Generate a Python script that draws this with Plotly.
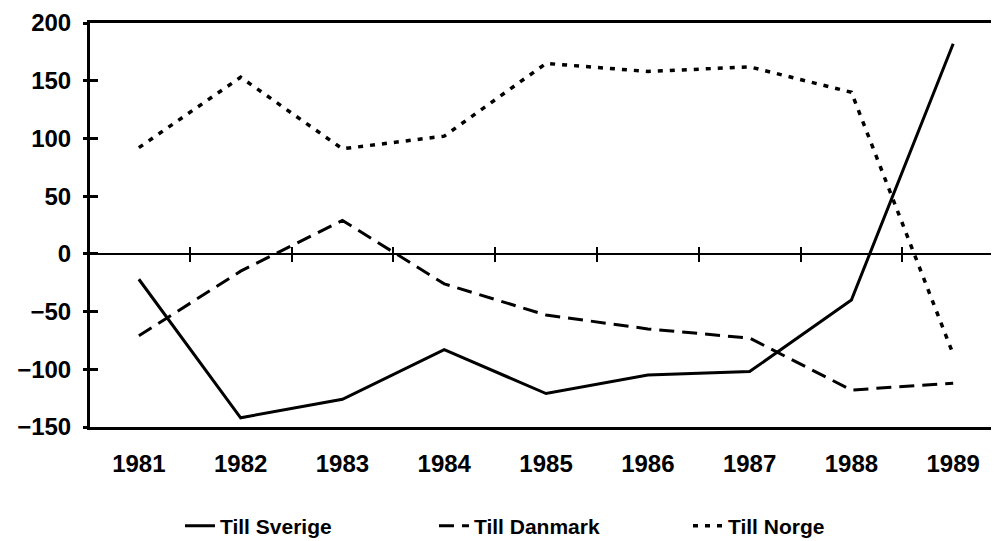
import plotly.graph_objects as go

years = [1981, 1982, 1983, 1984, 1985, 1986, 1987, 1988, 1989]
year_labels = [str(y) for y in years]
sverige = [-22, -142, -126, -83, -121, -105, -102, -40, 182]
danmark = [-71, -15, 29, -26, -53, -65, -73, -118, -112]
norge = [92, 153, 91, 102, 165, 158, 162, 140, -87]

y_ticks = [-150, -100, -50, 0, 50, 100, 150, 200]
zero_ticks = [1981.5, 1982.5, 1983.5, 1984.5, 1985.5, 1986.5, 1987.5, 1988.5]

FONT = "Liberation Sans, Arial, sans-serif"
xr = [1980.52, 1989.45]
yr = [-150, 200]

fig = go.Figure()
fig.add_trace(go.Scatter(x=years, y=sverige, mode="lines", name="Till Sverige",
                         line=dict(color="black", width=3)))
fig.add_trace(go.Scatter(x=years, y=danmark, mode="lines", name="Till Danmark",
                         line=dict(color="black", width=3, dash="15px,8px")))
fig.add_trace(go.Scatter(x=years, y=norge, mode="lines", name="Till Norge",
                         line=dict(color="black", width=3.5, dash="5px,7px")))
# helper traces so the overlay axes exist
fig.add_trace(go.Scatter(x=[], y=[], xaxis="x2", yaxis="y", showlegend=False, hoverinfo="skip"))
fig.add_trace(go.Scatter(x=[], y=[], xaxis="x3", yaxis="y", showlegend=False, hoverinfo="skip"))
fig.add_trace(go.Scatter(x=[], y=[], xaxis="x", yaxis="y2", showlegend=False, hoverinfo="skip"))

fig.update_layout(
    width=991, height=533,
    margin=dict(l=82, r=0, t=15, b=114, autoexpand=False),
    paper_bgcolor="white", plot_bgcolor="white",
    font=dict(family=FONT, size=24, color="black", weight="bold"),
    showlegend=True,
    legend=dict(orientation="h", x=0.099, xanchor="left", y=-0.245, yanchor="middle",
                entrywidth=209, entrywidthmode="pixels",
                font=dict(size=21, family=FONT, weight="bold"),
                bgcolor="rgba(0,0,0,0)"),
    xaxis=dict(range=xr, tickmode="array", tickvals=years, ticktext=year_labels,
               ticks="", showgrid=False, zeroline=False,
               showline=True, linecolor="black", linewidth=3, mirror=True,
               ticklabelstandoff=13, tickfont=dict(size=24)),
    xaxis2=dict(range=xr, overlaying="x", anchor="free", position=150/350, side="bottom",
                tickmode="array", tickvals=zero_ticks, ticks="outside", ticklen=7,
                tickwidth=2, tickcolor="black", showticklabels=False, showgrid=False,
                zeroline=False, showline=True, linecolor="black", linewidth=2),
    xaxis3=dict(range=xr, overlaying="x", anchor="free", position=150/350, side="top",
                tickmode="array", tickvals=zero_ticks, ticks="outside", ticklen=7,
                tickwidth=2, tickcolor="black", showticklabels=False, showgrid=False,
                zeroline=False, showline=False),
    yaxis=dict(range=yr, tickmode="array", tickvals=y_ticks, ticks="outside", ticklen=4,
               tickwidth=2.5, tickcolor="black", showgrid=False, zeroline=False,
               showline=True, linecolor="black", linewidth=3, mirror=False,
               ticklabelstandoff=7, tickfont=dict(size=24)),
    yaxis2=dict(range=yr, overlaying="y", anchor="x", side="left", tickmode="array",
                tickvals=y_ticks, ticks="inside", ticklen=8, tickwidth=2.5,
                tickcolor="black", showticklabels=False, showgrid=False,
                zeroline=False, showline=False),
)

fig.write_html("out.html")
